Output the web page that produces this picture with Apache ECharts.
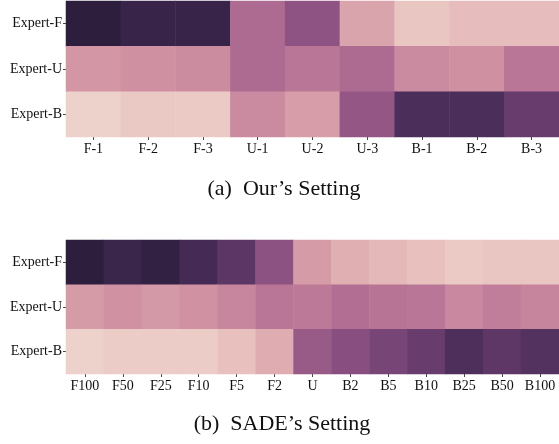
<!DOCTYPE html>
<html>
<head>
<meta charset="utf-8">
<title>Expert heatmaps</title>
<script src="https://cdn.jsdelivr.net/npm/echarts@6/dist/echarts.min.js"></script>
<style>
  html, body { margin: 0; padding: 0; background: #fff; }
  #chart { width: 559px; height: 444px; }
</style>
</head>
<body>
<div id="chart"></div>
<script>
// ============================================
// DATA
// ============================================

const experts = ['Expert-F', 'Expert-U', 'Expert-B'];

// (a) Our's setting
const oursCols = ['F-1', 'F-2', 'F-3', 'U-1', 'U-2', 'U-3', 'B-1', 'B-2', 'B-3'];
const oursF = [1.00, 0.96, 0.96, 0.48, 0.62, 0.20, 0.05, 0.09, 0.09];
const oursU = [0.26, 0.29, 0.31, 0.48, 0.42, 0.48, 0.32, 0.29, 0.42];
const oursB = [0.00, 0.04, 0.03, 0.32, 0.23, 0.60, 0.88, 0.88, 0.77];

// (b) SADE's setting
const sadeCols = ['F100', 'F50', 'F25', 'F10', 'F5', 'F2', 'U', 'B2', 'B5', 'B10', 'B25', 'B50', 'B100'];
const sadeF = [1.00, 0.95, 0.98, 0.91, 0.82, 0.63, 0.24, 0.15, 0.11, 0.07, 0.03, 0.05, 0.05];
const sadeU = [0.24, 0.28, 0.25, 0.28, 0.34, 0.42, 0.40, 0.46, 0.43, 0.42, 0.33, 0.38, 0.35];
const sadeB = [0.00, 0.02, 0.02, 0.02, 0.07, 0.16, 0.58, 0.65, 0.71, 0.77, 0.87, 0.81, 0.85];

// ============================================
// COLOUR RAMP (seaborn cubehelix_palette, light -> dark)
// ============================================

function cubehelixStops(n) {
  const light = 0.85, dark = 0.15, hue = 0.8, rot = 0.4;
  const stops = [];
  for (let i = 0; i < n; i++) {
    const x = light + (dark - light) * i / (n - 1);
    const a = hue * x * (1 - x) / 2;
    const phi = 2 * Math.PI * rot * x;
    const ch = (p0, p1) => {
      const v = x + a * (p0 * Math.cos(phi) + p1 * Math.sin(phi));
      return Math.round(Math.min(1, Math.max(0, v)) * 255);
    };
    const r = ch(-0.14861, 1.78277);
    const g = ch(-0.29227, -0.90649);
    const b = ch(1.97294, 0);
    stops.push(`rgb(${r},${g},${b})`);
  }
  return stops;
}

function toCells(rows) {
  const cells = [];
  rows.forEach((row, y) => {
    row.forEach((v, x) => cells.push([x, y, v]));
  });
  return cells;
}

// ============================================
// CHART
// ============================================

const serif = 'Liberation Serif, Times New Roman, serif';

function xAxisFor(data, gridIndex) {
  return {
    type: 'category',
    gridIndex,
    data,
    position: 'bottom',
    axisLine: { show: false },
    axisTick: { show: true, length: 3, alignWithLabel: true, lineStyle: { color: '#444' } },
    axisLabel: { interval: 0, margin: 5, fontSize: 14, fontFamily: serif, color: '#111' },
    splitLine: { show: false },
    splitArea: { show: false }
  };
}

function yAxisFor(gridIndex) {
  return {
    type: 'category',
    gridIndex,
    data: experts,
    inverse: true,
    axisLine: { show: false },
    axisTick: { show: true, length: 3, alignWithLabel: true, lineStyle: { color: '#444' } },
    axisLabel: { interval: 0, margin: 4, fontSize: 14, fontFamily: serif, color: '#111' },
    splitLine: { show: false },
    splitArea: { show: false }
  };
}

const chart = echarts.init(document.getElementById('chart'));

const option = {
  backgroundColor: '#fff',
  animation: false,
  grid: [
    { left: 66, top: 1, width: 493, height: 136 },
    { left: 66, top: 240, width: 493, height: 134 }
  ],
  xAxis: [xAxisFor(oursCols, 0), xAxisFor(sadeCols, 1)],
  yAxis: [yAxisFor(0), yAxisFor(1)],
  visualMap: {
    type: 'continuous',
    show: false,
    min: 0,
    max: 1,
    seriesIndex: [0, 1],
    inRange: { color: cubehelixStops(24) }
  },
  series: [
    {
      type: 'heatmap',
      xAxisIndex: 0,
      yAxisIndex: 0,
      data: toCells([oursF, oursU, oursB]),
      emphasis: { disabled: true }
    },
    {
      type: 'heatmap',
      xAxisIndex: 1,
      yAxisIndex: 1,
      data: toCells([sadeF, sadeU, sadeB]),
      emphasis: { disabled: true }
    }
  ],
  graphic: [
    {
      type: 'text',
      style: {
        text: '(a)  Our\u2019s Setting',
        x: 284, y: 189,
        fontSize: 22,
        fontFamily: serif,
        fill: '#111',
        align: 'center',
        verticalAlign: 'middle'
      }
    },
    {
      type: 'text',
      style: {
        text: '(b)  SADE\u2019s Setting',
        x: 282, y: 424,
        fontSize: 22,
        fontFamily: serif,
        fill: '#111',
        align: 'center',
        verticalAlign: 'middle'
      }
    }
  ]
};

chart.setOption(option);
</script>
</body>
</html>
